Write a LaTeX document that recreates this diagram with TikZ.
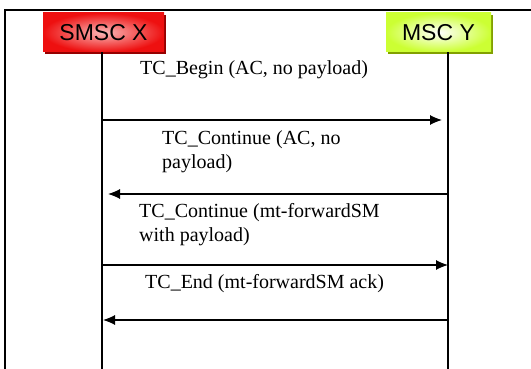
\documentclass[tikz,border=0pt]{standalone}
\usepackage{fontspec}
\setmainfont{Liberation Serif}
\newfontfamily\boxfont{Liberation Sans}
\usetikzlibrary{arrows.meta,shadows}
\definecolor{smscred}{RGB}{238,16,16}
\definecolor{smscshade}{RGB}{150,0,0}
\definecolor{msclime}{RGB}{204,255,51}
\definecolor{mscshade}{RGB}{130,160,0}
\tikzset{
  entity/.style={minimum height=39pt, inner sep=0pt, font=\boxfont\fontsize{23}{26}\selectfont},
  msg/.style={anchor=west, align=left, inner sep=0pt, font=\fontsize{20}{24}\selectfont},
  life/.style={line width=1.1pt},
  msgarrow/.style={line width=1.1pt, -{Latex[length=12pt,width=10pt]}}
}
\begin{document}
\begin{tikzpicture}[x=1pt,y=-1pt]
  \useasboundingbox (0,0) rectangle (531,369);
  % frame
  \draw[line width=1.6pt] (531,10) -- (5,10) -- (5,369);
  % entities
  \node[entity, minimum width=121pt, shading=radial, inner color=smscred!30, outer color=smscred,
        drop shadow={shadow xshift=2pt, shadow yshift=-2pt, fill=smscshade, opacity=1}]
        (smscx) at (103.5,32.5) {SMSC X};
  \node[entity, minimum width=105pt, shading=radial, inner color=white, outer color=msclime,
        drop shadow={shadow xshift=2pt, shadow yshift=-2pt, fill=mscshade, opacity=1}]
        (mscy) at (438.5,32.5) {MSC Y};
  % lifelines
  \coordinate (xbot) at (102,369);
  \coordinate (ybot) at (448,369);
  \draw[life] (xbot |- smscx.south) -- (xbot);
  \draw[life] (ybot |- mscy.south) -- (ybot);
  % messages
  \node[msg] (begin) at (140,70) {TC\_Begin (AC, no payload)};
  \coordinate (x1) at (102,120);
  \coordinate (y1) at (442,120);
  \draw[msgarrow] (x1) -- (y1);
  \node[msg] (cont1) at (162,152) {TC\_Continue (AC, no\\payload)};
  \coordinate (y2) at (448,194);
  \coordinate (x2) at (108,194);
  \draw[msgarrow] (y2) -- (x2);
  \node[msg] (cont2) at (139,225) {TC\_Continue (mt-forwardSM\\with payload)};
  \coordinate (x3) at (102,265);
  \coordinate (y3) at (448,265);
  \draw[msgarrow] (x3) -- (y3);
  \node[msg] (endmsg) at (145,284) {TC\_End (mt-forwardSM ack)};
  \coordinate (y4) at (448,320);
  \coordinate (x4) at (103,320);
  \draw[msgarrow] (y4) -- (x4);
\end{tikzpicture}
\end{document}
